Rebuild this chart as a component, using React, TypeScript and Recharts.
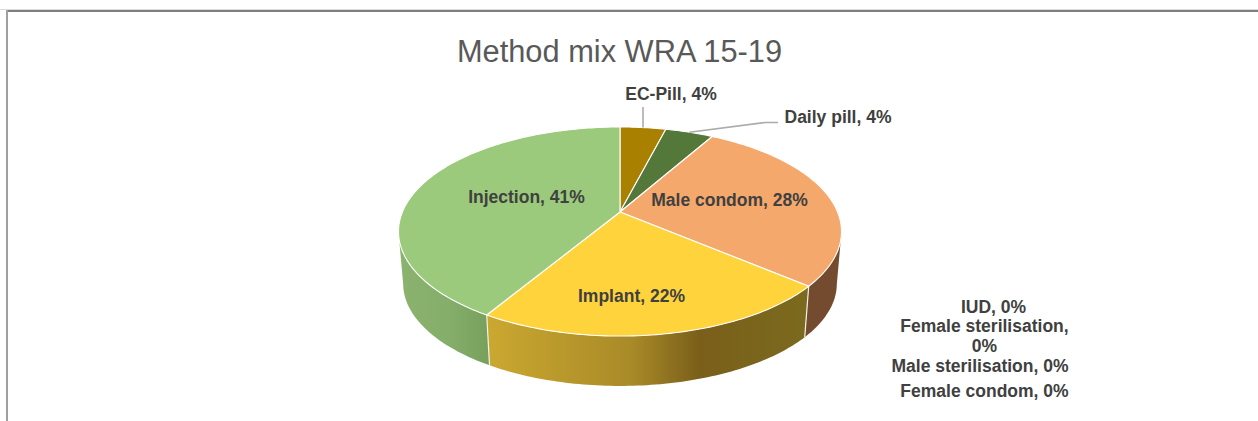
import { PieChart, Pie } from "recharts";

const methods = [
  "EC-Pill",
  "Daily pill",
  "Male condom",
  "Female condom",
  "Male sterilisation",
  "Female sterilisation",
  "IUD",
  "Implant",
  "Injection"
];
const shares = [4.0, 4.2, 28.0, 0, 0, 0, 0, 22.4, 41.4];
const shareLabels = ["4%", "4%", "28%", "0%", "0%", "0%", "0%", "22%", "41%"];
const topColors = ["#A98000", "#54773A", "#F4A86C", "#F4A86C", "#F4A86C", "#F4A86C", "#F4A86C", "#FFD33C", "#9BCA7C"];
const wallFills = ["none", "none", "#744B2F", "none", "none", "none", "none", "url(#implantWall)", "url(#injectionWall)"];

const chartData = methods.map((name, i) => ({ name, value: shares[i], label: shareLabels[i] }));

// label centre x and baseline y, placed by hand like in the original
const labelSpots = [
  [671, 100],
  [838, 122.5],
  [729.5, 206],
  [984.5, 397],
  [980, 371.5],
  [984.5, 331.5],
  [993.5, 313],
  [631.5, 302],
  [526.5, 203]
];

const CX = 620;
const CY = 212;
const RADIUS = 217.6;
const TILT = -0.1866; // perspective of the tilted disc
const SQUASH = 100.9 / 217.6;
const WALL_DROP = 52.5;
const WALL_SCALE = 0.979;
const WALL_MIN = 101; // wall only shows on the front of the disc
const WALL_MAX = 259;

// clockwise angle from 12 o'clock -> screen point on the disc
function project(cx: number, cy: number, r: number, clockDeg: number, scale = 1, drop = 0) {
  const a = (clockDeg * Math.PI) / 180;
  const u = Math.sin(a);
  const v = -Math.cos(a);
  const d = 1 + TILT * v;
  return [cx + (r * scale * u) / d, cy + drop + (r * scale * SQUASH * v) / d];
}

function arcPoints(cx: number, cy: number, r: number, from: number, to: number, scale = 1, drop = 0) {
  const pts: number[][] = [];
  const n = Math.max(1, Math.ceil(Math.abs(to - from)));
  for (let i = 0; i <= n; i++) {
    pts.push(project(cx, cy, r, from + ((to - from) * i) / n, scale, drop));
  }
  return pts;
}

const toPath = (pts: number[][]) =>
  "M" + pts.map((p) => p[0].toFixed(2) + "," + p[1].toFixed(2)).join("L") + "Z";

function TopSector(props: any) {
  const { cx, cy, outerRadius, startAngle, endAngle, index } = props;
  const from = 90 - startAngle;
  const to = 90 - endAngle;
  if (to - from < 0.01) return <g />;
  const pts = [[cx, cy], ...arcPoints(cx, cy, outerRadius, from, to)];
  return <path d={toPath(pts)} fill={topColors[index]} stroke="#FFFFFF" strokeWidth={1.1} strokeLinejoin="round" />;
}

function WallSector(props: any) {
  const { cx, cy, outerRadius, startAngle, endAngle, index } = props;
  const from = Math.max(90 - startAngle, WALL_MIN);
  const to = Math.min(90 - endAngle, WALL_MAX);
  if (to - from < 0.01 || wallFills[index] === "none") return <g />;
  const upper = arcPoints(cx, cy, outerRadius, from, to);
  const lower = arcPoints(cx, cy, outerRadius, to, from, WALL_SCALE, WALL_DROP);
  return <path d={toPath([...upper, ...lower])} fill={wallFills[index]} />;
}

function WallSeams(props: any) {
  const { cx, cy, outerRadius, startAngle, index } = props;
  const at = 90 - startAngle;
  if (wallFills[index] === "none" || at < WALL_MIN || at > WALL_MAX) return <g />;
  const a = project(cx, cy, outerRadius, at);
  const b = project(cx, cy, outerRadius, at, WALL_SCALE, WALL_DROP);
  return <line x1={a[0]} y1={a[1]} x2={b[0]} y2={b[1]} stroke="#F2F2E8" strokeWidth={1.2} />;
}

function SliceLabel(props: any) {
  const { index, cx, cy, outerRadius, startAngle, endAngle } = props;
  const [x, y] = labelSpots[index];
  const mid = 90 - (startAngle + endAngle) / 2;
  const rim = project(cx, cy, outerRadius, mid);
  const name = methods[index];
  const textStyle = {
    fontFamily: "Liberation Sans, Arial, sans-serif",
    fontSize: 17.5,
    fontWeight: 700,
    fill: "#404040"
  };
  return (
    <g>
      {name === "EC-Pill" && (
        <polyline points={`${rim[0]},${rim[1]} ${rim[0]},107`} fill="none" stroke="#ABABAB" strokeWidth={1.6} />
      )}
      {name === "Daily pill" && (
        <polyline points={`${rim[0]},${rim[1]} 765,122.5 778,122.5`} fill="none" stroke="#ABABAB" strokeWidth={1.6} />
      )}
      {name === "Female sterilisation" ? (
        <text textAnchor="middle" style={textStyle}>
          <tspan x={x} y={y}>{name},</tspan>
          <tspan x={x} y={y + 20}>{shareLabels[index]}</tspan>
        </text>
      ) : (
        <text x={x} y={y} textAnchor="middle" style={textStyle}>
          {name}, {shareLabels[index]}
        </text>
      )}
    </g>
  );
}

export default function App() {
  return (
    <div style={{ position: "absolute", left: 0, top: 0, width: 1258, height: 421, background: "#fff", overflow: "hidden" }}>
      {/* Frame: only top and left edges fall inside the crop */}
      <div style={{ position: "absolute", left: 0, top: 9, width: 1258, height: 1, background: "#DDDDDD" }} />
      <div style={{ position: "absolute", left: 6, top: 10, width: 1252, height: 2, background: "#7F7F7F" }} />
      <div style={{ position: "absolute", left: 6, top: 10, width: 2, height: 411, background: "#A0A0A0" }} />
      <PieChart width={1258} height={421} margin={{ top: 0, right: 0, bottom: 0, left: 0 }}>
        <defs>
          <linearGradient id="implantWall" x1="0" y1="0" x2="1" y2="0">
            <stop offset="0%" stopColor="#CBA830" />
            <stop offset="45%" stopColor="#A98A28" />
            <stop offset="66%" stopColor="#7A5F1A" />
            <stop offset="100%" stopColor="#7B6A1E" />
          </linearGradient>
          <linearGradient id="injectionWall" x1="0" y1="0" x2="1" y2="0">
            <stop offset="0%" stopColor="#8BB36F" />
            <stop offset="55%" stopColor="#86AE6B" />
            <stop offset="100%" stopColor="#76A05C" />
          </linearGradient>
        </defs>
        <text x={619.5} y={61.5} textAnchor="middle" fontFamily="Liberation Sans, Arial, sans-serif" fontSize={30.8} fill="#595959">
          Method mix WRA 15-19
        </text>
        <Pie
          data={chartData}
          dataKey="value"
          cx={CX}
          cy={CY}
          outerRadius={RADIUS}
          startAngle={90}
          endAngle={-270}
          stroke="none"
          isAnimationActive={false}
          shape={WallSector}
        />
        <Pie
          data={chartData}
          dataKey="value"
          cx={CX}
          cy={CY}
          outerRadius={RADIUS}
          startAngle={90}
          endAngle={-270}
          stroke="none"
          isAnimationActive={false}
          shape={WallSeams}
        />
        <Pie
          data={chartData}
          dataKey="value"
          cx={CX}
          cy={CY}
          outerRadius={RADIUS}
          startAngle={90}
          endAngle={-270}
          stroke="none"
          isAnimationActive={false}
          shape={TopSector}
          label={SliceLabel}
          labelLine={false}
        />
      </PieChart>
    </div>
  );
}
